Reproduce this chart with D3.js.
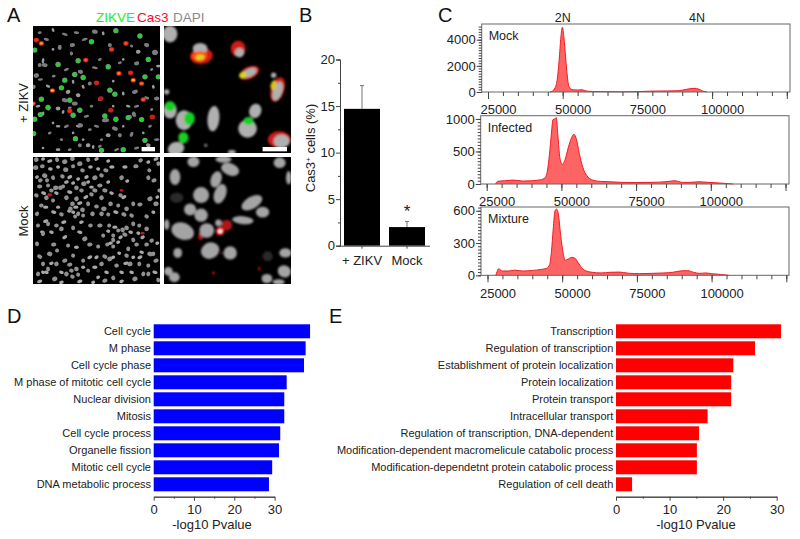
<!DOCTYPE html>
<html><head><meta charset="utf-8">
<style>html,body{margin:0;background:#fff}svg{display:block}text{font-family:"Liberation Sans",Arial,sans-serif;fill:#222}</style>
<script src="https://cdn.jsdelivr.net/npm/d3@7"></script></head><body>
<svg id="c" width="800" height="539"></svg>
<script>
// ---------- data ----------
const barLabels=["+ ZIKV","Mock"], barValues=[14.7,2.0], barErrors=[17.2,2.6];
const cycleX=[25000,50000,75000,100000];
const mockHist=[[45700,0],[46500,60],[47500,350],[48200,1000],[48800,2400],[49400,4200],[49900,4950],[50400,4200],[51000,2600],[51500,1300],[52000,500],[52600,250],[53500,170],[55000,150],[56500,170],[58000,70],[60000,40],[65000,25],[70000,15],[75000,30],[80000,70],[85000,80],[88000,90],[90000,140],[92000,230],[94000,280],[95500,220],[96800,80],[98200,0]];
const infHist=[[28000,0],[28600,40],[31000,50],[34000,60],[37000,45],[40000,50],[43000,65],[44500,95],[45300,200],[46000,450],[46700,800],[47200,990],[47800,1000],[48300,1020],[48800,760],[49500,400],[50300,300],[51200,370],[52300,560],[53300,700],[54200,765],[55000,690],[56000,470],[57200,250],[58500,130],[60500,60],[63000,40],[66000,35],[70000,25],[75000,22],[80000,25],[85000,35],[88000,50],[90500,25],[93000,25],[96000,35],[99000,25],[103000,15],[107400,0]];
const mixHist=[[27800,0],[28200,35],[28700,60],[30000,40],[32000,40],[34000,48],[37000,40],[40000,45],[43000,55],[44800,65],[45800,100],[46400,220],[47000,430],[47600,600],[48100,615],[48700,570],[49500,370],[50300,210],[51000,140],[52000,150],[53200,167],[54200,160],[55300,120],[56500,70],[58000,40],[60000,28],[63000,22],[66000,28],[69000,30],[72000,20],[76000,15],[80000,18],[84000,22],[87000,28],[90000,42],[92000,43],[94000,28],[96000,18],[98000,22],[100000,15],[103000,8],[105700,0]];
const dTerms=["Cell cycle","M phase","Cell cycle phase","M phase of mitotic cell cycle","Nuclear division","Mitosis","Cell cycle process","Organelle fission","Mitotic cell cycle","DNA metabolic process"];
const dValues=[38.8,37.7,37.3,33.0,32.4,32.4,31.4,31.1,29.4,28.6];
const eTerms=["Transcription","Regulation of transcription","Establishment of protein localization","Protein localization","Protein transport","Intracellular transport","Regulation of transcription, DNA-dependent","Modification-dependent macromelicule catabolic process","Modification-dependetnt protein catabolic process","Regulation of cell death"];
const eValues=[30.8,25.95,21.9,21.5,21.5,17.1,15.5,15.1,15.1,3.0];
// micrograph contents: [x,y,rx,ry,rotation] in image units (0-380)
const zikvGrey=[[60,12],[80,64],[60,70],[35,117],[20,117],[30,104],[115,82],[118,57],[230,57],[270,100],[315,77],[365,79],[340,57],[210,22],[185,17],[310,112],[142,137],[120,167],[105,197],[135,207],[170,172],[150,182],[270,202],[305,197],[360,182],[370,217],[285,240],[302,264],[48,247],[75,247],[90,257],[135,300],[142,297],[215,282],[295,324],[260,327],[345,357],[140,357],[165,357],[180,362],[245,307],[225,327],[290,272],[220,282],[2,182],[30,262],[15,240],[120,145],[100,130],[200,220],[175,240],[340,215],[355,250],[330,320],[310,365],[250,370],[85,340],[50,320],[30,365],[170,310],[10,148],[22,160],[45,180],[62,150],[185,125],[200,100],[240,165],[260,110],[295,60],[155,40],[130,20],[95,25],[40,40],[20,20],[355,130],[375,120],[110,245],[125,232],[95,222],[60,290],[75,300],[100,300],[190,300],[205,340],[150,340],[120,320],[270,300],[310,240],[350,300],[370,340],[240,240],[160,270],[75,370],[110,370],[200,360]];
const zikvGreen=[[135,104],[225,122],[125,145],[95,162],[150,154],[75,115],[85,185],[110,222],[230,192],[245,204],[335,152],[140,252],[120,267],[25,219],[215,269],[248,279],[285,274],[325,280],[22,265],[5,279],[2,322],[127,337],[335,342],[205,372],[270,370],[375,152],[320,30],[5,72],[248,14],[175,47],[345,100],[45,244]];
const zikvRed=[[10,42,"#e03020"],[25,52,"#ff9020"],[235,70,"#f04018"],[278,52,"#f05020"],[158,102,"#f05a18"],[257,142,"#ff8020"],[292,140,"#e82818"],[300,162,"#ffb020"],[325,172,"#f07030"],[58,193,"#f0d020"],[190,170,"#e02018"],[203,217,"#b01818"],[330,220,"#f06040"],[110,254,"#e03020"],[357,272,"#e01010"],[233,252,"#c02020"],[0,232,"#ff9020"]];
const zoomGrey=[[18,24,22,25,0],[148,277,18,38,5],[60,282,25,30,0],[250,307,28,27,0],[36,367,25,20,-20],[18,252,20,25,0],[273,254,18,22,20],[108,67,22,16,0],[226,80,14,14,0],[255,140,24,12,-25],[340,195,14,30,18],[352,345,24,20,0],[328,147,8,8,0],[125,357,4,4,0],[203,377,12,6,0],[8,197,8,8,0]];
const zoomGreen=[[76,277,16,20,0],[253,284,15,12,0],[58,334,15,17,0],[18,240,16,15,0]];
const zoomYellow=[[106,90,24,14,-5,"#ff5010"],[108,94,13,9,-5,"#e0d020"],[236,147,11,9,-25,"#d0d820"],[328,177,9,15,15,"#e0c020"]];
const zoomRed=[[112,90,34,24,-5],[222,68,22,24,0],[255,140,32,18,-25],[340,190,20,38,18],[345,340,34,25,0]];
const mockGrey=[[10,8],[30,6],[50,12],[72,8],[95,14],[118,5],[140,20],[165,8],[190,6],[225,12],[275,30],[322,10],[345,15],[368,6],[8,32],[28,28],[52,36],[75,30],[98,38],[120,28],[148,40],[172,30],[195,36],[218,40],[236,30],[308,28],[348,40],[375,20],[12,60],[35,56],[60,62],[88,58],[110,60],[135,66],[160,60],[185,62],[205,55],[265,62],[282,72],[345,62],[362,70],[20,88],[45,85],[68,92],[90,88],[130,92],[152,80],[175,90],[200,85],[225,75],[372,120],[378,100],[10,115],[32,108],[40,122],[70,108],[82,92],[158,120],[175,112],[205,122],[235,108],[262,115],[272,120],[350,125],[368,140],[25,145],[38,150],[60,130],[75,150],[100,122],[118,140],[128,150],[140,138],[148,158],[120,165],[108,162],[135,170],[190,148],[212,155],[232,140],[255,145],[280,155],[300,140],[320,142],[12,170],[38,192],[62,165],[85,172],[205,170],[225,172],[248,165],[272,172],[295,175],[340,178],[360,165],[28,225],[12,260],[45,200],[70,205],[92,195],[120,212],[145,195],[172,205],[200,205],[225,222],[255,220],[280,212],[300,200],[318,205],[340,215],[355,250],[30,230],[62,262],[95,240],[140,225],[155,245],[210,235],[240,235],[262,240],[275,232],[292,225],[340,262],[372,258],[20,298],[50,290],[72,280],[105,265],[130,270],[170,262],[195,268],[222,262],[240,268],[258,288],[285,275],[310,262],[325,285],[350,290],[30,320],[55,318],[85,345],[110,322],[130,335],[150,310],[170,300],[205,320],[230,305],[250,325],[278,318],[295,345],[318,320],[345,325],[368,310],[15,350],[40,345],[65,365],[100,350],[118,358],[135,352],[165,340],[195,360],[220,345],[240,362],[265,345],[305,365],[330,350],[365,345],[375,368],[20,372],[85,375],[140,372],[180,375],[265,372],[100,75],[120,78],[145,100],[165,75],[185,100],[215,100],[110,105],[55,100],[42,70],[22,70],[130,125],[112,155],[126,178],[150,175],[165,140],[178,170],[228,205],[245,210],[268,218],[240,248],[255,255],[232,258],[300,248],[315,228],[328,240],[320,300],[300,300],[280,295],[240,300],[215,298],[190,300],[120,295],[95,310],[70,320],[45,335],[30,345],[115,340],[150,330],[185,330],[215,370],[290,320],[345,350],[360,290],[85,215],[55,225],[15,205]];
const mockRed=[[50,113,7,5],[265,100,6,4],[328,228,6,4]];
const mockZoomGrey=[[88,14,18,16,0],[178,7,24,10,0],[33,60,16,24,0],[198,37,28,18,20],[156,67,16,25,20],[346,17,18,16,0],[373,62,8,20,0],[111,114,24,24,0],[168,110,18,30,20],[78,157,18,18,0],[111,174,20,20,0],[263,137,34,18,-30],[295,165,20,16,0],[56,222,35,25,20],[128,220,22,22,0],[236,189,32,12,5],[138,280,28,24,-25],[198,287,20,20,0],[41,287,13,15,0],[163,197,10,10,0],[8,202,8,16,0],[13,342,13,13,0],[31,360,16,15,0],[308,364,16,14,0],[360,342,20,18,20],[363,287,18,14,0],[343,374,18,8,0]];
const mockZoomDim=[[310,297,15,15,0],[38,122,20,15,0]];
const mockZoomRed=[[188,204,16,16,"#b01818"],[110,237,8,12,"#b01010"],[148,347,5,4,"#e01010"],[285,334,3,6,"#e01010"],[173,287,3,3,"#901010"]];

// ---------- helpers ----------
const svg=d3.select("#c");
svg.append("rect").attr("width",800).attr("height",539).attr("fill","#fff");
const defs=svg.append("defs");
[["soft",0.6],["softer",0.8]].forEach(([id,s])=>defs.append("filter").attr("id",id).attr("x","-5%").attr("y","-5%").attr("width","110%").attr("height","110%")
  .append("feGaussianBlur").attr("stdDeviation",s));
const txt=(x,y,s,size,o={})=>svg.append("text").attr("x",x).attr("y",y).attr("font-size",size)
  .attr("text-anchor",o.anchor||"start").style("fill",o.fill||"#222").attr("transform",o.rot?`rotate(${o.rot} ${x} ${y})`:null).text(s);
function style(g,size){g.selectAll("path,line").attr("stroke","#444").attr("stroke-width",1);
  g.selectAll("text").attr("font-size",size||13).attr("font-family",'"Liberation Sans",Arial,sans-serif').style("fill","#222");}

// ---------- panel A ----------
const imgSize=127;
function micro(px,py,blur,draw){
  const x=d3.scaleLinear().domain([0,380]).range([px,px+imgSize]);
  const y=d3.scaleLinear().domain([0,380]).range([py,py+imgSize]);
  const k=imgSize/380;
  svg.append("rect").attr("x",px).attr("y",py).attr("width",imgSize).attr("height",imgSize).attr("fill","#000");
  const cp="cp"+px+"_"+py;
  defs.append("clipPath").attr("id",cp).append("rect").attr("x",px).attr("y",py).attr("width",imgSize).attr("height",imgSize);
  const clip=svg.append("g").attr("clip-path",`url(#${cp})`);
  const g=clip.append("g").attr("filter",`url(#${blur})`);
  const layer=(data,fill,rx,ry,rot,op)=>g.append("g").selectAll("ellipse").data(data).join("ellipse")
    .attr("cx",d=>x(d[0])).attr("cy",d=>y(d[1])).attr("rx",d=>rx(d)*k).attr("ry",d=>ry(d)*k)
    .attr("transform",d=>{const a=rot?rot(d):0;return a?`rotate(${a} ${x(d[0])} ${y(d[1])})`:null;})
    .attr("fill",fill).attr("opacity",op==null?1:op);
  draw(layer,x,y,clip);
}
const r2=d=>d[2],r3=d=>d[3],r4=d=>d[4];
micro(33,26,"soft",(layer,x,y,g)=>{
  layer(zikvGrey,d=>d[0]%3?"#7c7c7c":"#9a9a9a",d=>4+d[0]%6,d=>4+d[1]%5,d=>d[0]%50-25);
  layer(zikvGreen,"#8c8c8c",d=>8,d=>8);
  layer(zikvGreen,"#20d030",()=>7,()=>6);
  layer(zikvRed,"#d02018",()=>8,()=>7);
  layer(zikvRed,d=>d[2],()=>5,()=>4);
  g.append("rect").attr("x",x(325)).attr("y",y(362)).attr("width",x(365)-x(325)).attr("height",y(375)-y(362)).attr("fill","#fff");
});
micro(164,26,"softer",(layer,x,y,g)=>{
  layer(zoomRed,"#d01c14",r2,r3,r4);
  layer(zoomGrey,"#b0b0b0",r2,r3,r4);
  layer(zoomGreen,"#18d020",r2,r3,r4);
  layer(zoomYellow,d=>d[5],r2,r3,r4);
  g.append("rect").attr("x",x(295)).attr("y",y(362)).attr("width",x(368)-x(295)).attr("height",y(375)-y(362)).attr("fill","#fff");
});
micro(33,157,"soft",(layer)=>{
  layer(mockGrey,d=>d[1]%3?"#909090":"#a8a8a8",d=>6+d[0]%3,d=>5+d[1]%3,d=>d[1]%60-30);
  layer(mockRed,"#c01818",r2,r3);
});
micro(164,157,"softer",(layer)=>{
  layer(mockZoomDim,"#2c2c2c",r2,r3,r4);
  layer(mockZoomRed,d=>d[4],r2,r3);
  layer(mockZoomGrey,"#a4a4a4",r2,r3,r4);
  layer([[168,222]],"#f02020",()=>13,()=>13);
  layer([[168,222]],"#ffffff",()=>6,()=>6);
});
[["ZIKVE","#22f022",96],["Cas3","#e8102a",137],["DAPI","#8a8a8a",173]].forEach(([t,c,x])=>txt(x,21.5,t,13.5,{fill:c}));
txt(28,103,"+ ZIKV",13,{anchor:"middle",rot:-90});
txt(28,221,"Mock",13,{anchor:"middle",rot:-90});

// ---------- panel B ----------
(function(){
  const y=d3.scaleLinear().domain([0,20]).range([245.7,59.5]);
  const x=d3.scaleBand().domain(barLabels).range([339.5,429.5]).paddingInner(0.2).paddingOuter(0.1);
  const g=svg.append("g");
  const mid=i=>x(barLabels[i])+x.bandwidth()/2;
  g.selectAll(".e").data(barValues).join("line").attr("x1",(d,i)=>mid(i)).attr("x2",(d,i)=>mid(i))
    .attr("y1",d=>y(d)).attr("y2",(d,i)=>y(barErrors[i])).attr("stroke","#777");
  g.selectAll(".c").data(barErrors).join("line").attr("x1",(d,i)=>mid(i)-2).attr("x2",(d,i)=>mid(i)+2)
    .attr("y1",d=>y(d)).attr("y2",d=>y(d)).attr("stroke","#777");
  g.selectAll("rect").data(barValues).join("rect").attr("x",(d,i)=>x(barLabels[i])).attr("width",x.bandwidth())
    .attr("y",d=>y(d)).attr("height",d=>y(0)-y(d)).attr("fill","#000");
  const ax=svg.append("g").attr("transform","translate(340,0)").call(d3.axisLeft(y).tickValues([0,5,10,15,20]).tickSize(4));style(ax);
  ax.selectAll("text").attr("dx",2);
  const ax2=svg.append("g").attr("transform","translate(340,0)").call(d3.axisLeft(y).tickValues([2.5,7.5,12.5,17.5]).tickSize(2).tickFormat(""));style(ax2);
  const bx=svg.append("g").attr("transform","translate(0,245.7)").call(d3.axisBottom(x).tickSize(3).tickSizeOuter(0));style(bx);
  bx.selectAll("text").attr("dy","1.05em");
  txt(mid(1),217,"*",17,{anchor:"middle"});
  const t=txt(315,148,"Cas3",13,{anchor:"middle",rot:-90});
  t.append("tspan").attr("font-size",8).attr("dy",-4).text("+");
  t.append("tspan").attr("dy",4).text(" cells (%)");
})();

// ---------- panel C ----------
function hist(top,bottom,left,right,x25,yMax,yMajor,yStep,data,label){
  const k=74.7/25000;
  const x=d3.scaleLinear().domain([25000+(left-x25)/k,25000+(right-x25)/k]).range([left,right]);
  const y=d3.scaleLinear().domain([0,yMax]).range([bottom,top]);
  const area=d3.area().x(d=>x(d[0])).y0(bottom).y1(d=>y(d[1])).curve(d3.curveMonotoneX);
  const line=d3.line().x(d=>x(d[0])).y(d=>y(d[1])).curve(d3.curveMonotoneX);
  svg.append("path").datum(data).attr("d",area).attr("fill","#ff6464");
  svg.append("path").datum(data).attr("d",line).attr("fill","none").attr("stroke","#ee1c24").attr("stroke-width",1);
  svg.append("rect").attr("x",left).attr("y",top).attr("width",right-left).attr("height",bottom-top).attr("fill","none").attr("stroke","#666");
  const a1=svg.append("g").attr("transform",`translate(0,${bottom})`).call(d3.axisBottom(x).tickValues(d3.range(25000,125001,5000)).tickSize(4).tickFormat(""));style(a1);
  const a2=svg.append("g").attr("transform",`translate(0,${bottom})`).call(d3.axisBottom(x).tickValues(cycleX.concat([125000])).tickSize(7).tickFormat(d=>d>100000?"":String(d)));style(a2);
  a2.selectAll("text").attr("dx",10).attr("dy","0.95em");
  a1.select(".domain").remove();a2.select(".domain").remove();
  const a3=svg.append("g").attr("transform",`translate(${left},0)`).call(d3.axisLeft(y).tickValues(d3.range(0,yMax,yStep)).tickSize(3).tickFormat(""));style(a3);
  const a4=svg.append("g").attr("transform",`translate(${left},0)`).call(d3.axisLeft(y).tickValues(yMajor).tickSize(5).tickFormat(String));style(a4);
  a3.select(".domain").remove();a4.select(".domain").remove();
  a4.selectAll("text").attr("dx",2);
  txt(left+7,top+16,label,12.5);
}
hist(24,92,481.7,790,488,5200,[0,2000,4000],200,mockHist,"Mock");
hist(115.7,184,480.7,789,486.7,1050,[0,500,1000],50,infHist,"Infected");
hist(207,275.3,481,789,487.5,635,[0,300,600],30,mixHist,"Mixture");
txt(562.7,22,"2N",12.5,{anchor:"middle"});
txt(697,22,"4N",12.5,{anchor:"middle"});

// ---------- panels D, E ----------
function hbars(terms,vals,x0,x30,color,labelX){
  const x=d3.scaleLinear().domain([0,30]).range([x0,x30]);
  const y=d3.scaleBand().domain(terms).range([322.8,492.8]).paddingInner(0.176).paddingOuter(0.088);
  svg.append("g").selectAll("rect").data(vals).join("rect").attr("x",x(0)).attr("y",(d,i)=>y(terms[i])).attr("width",d=>x(d)-x(0))
    .attr("height",y.bandwidth()).attr("fill",color);
  svg.append("g").selectAll("text").data(terms).join("text").attr("x",x0-2.7).attr("y",d=>y(d)+y.bandwidth()/2+3.9)
    .attr("text-anchor","end").attr("font-size",11).text(d=>d);
  const a=svg.append("g").attr("transform","translate(0,496.7)").call(d3.axisBottom(x).tickValues([0,10,20,30]).tickSize(4).tickSizeOuter(0));style(a);
  a.selectAll("text").attr("dy","0.8em");
  const b=svg.append("g").attr("transform","translate(0,496.7)").call(d3.axisBottom(x).tickValues([5,15,25]).tickSize(2).tickSizeOuter(0).tickFormat(""));style(b);
  txt(labelX,529,"-log10 Pvalue",13,{anchor:"middle"});
}
hbars(dTerms,dValues,153.7,274.6,"#0000ff",212);
hbars(eTerms,eValues,616,776.7,"#ff0000",696);

// ---------- panel letters ----------
[["A",7,22],["B",299,22],["C",438,22],["D",7,323],["E",329,323]].forEach(([t,x,y])=>txt(x,y,t,20,{fill:"#111"}));
</script></body></html>
